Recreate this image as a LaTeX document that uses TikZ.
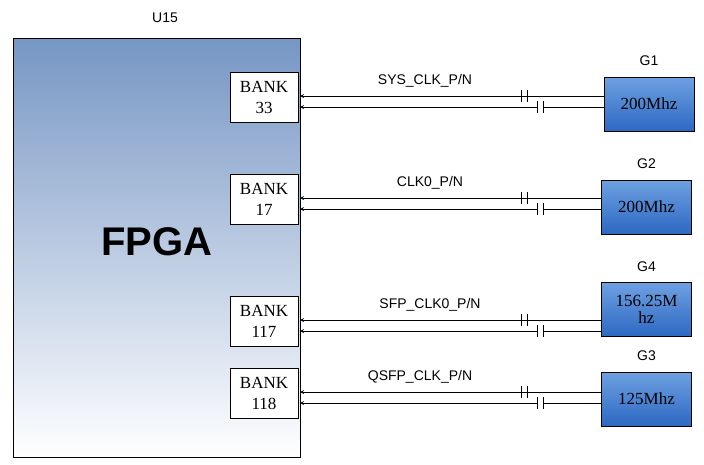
\documentclass[tikz,border=0pt]{standalone}
\usepackage{fontspec}
\setmainfont{Liberation Serif}
\newfontfamily\labelfont{Liberation Sans}
\usetikzlibrary{positioning}
\definecolor{fpgatop}{RGB}{118,150,196}
\definecolor{osctop}{RGB}{110,160,225}
\definecolor{oscbot}{RGB}{45,105,195}
\begin{document}
\begin{tikzpicture}[x=1pt,y=-1pt,>=stealth,thick,
  bank/.style={draw,fill=white,minimum width=68pt,minimum height=50pt,inner sep=0pt,align=center,font=\fontsize{17}{19}\selectfont},
  osc/.style={draw,top color=osctop,bottom color=oscbot,minimum width=90pt,minimum height=54pt,inner sep=0pt,align=center,font=\fontsize{17}{17}\selectfont},
  sig/.style={font=\labelfont\fontsize{14}{14}\selectfont},
  capplate/.style={line width=1pt}]
\useasboundingbox (0,0) rectangle (704,464);
\node[draw,top color=fpgatop,bottom color=white,minimum width=287pt,minimum height=419pt,inner sep=0pt] (fpga) at (156.5,247.5) {};
\node[font=\labelfont\bfseries\fontsize{40}{40}\selectfont] (fpgatxt) at (157,242) {FPGA};
\node[sig] (u15) at (165,18) {U15};
% banks and oscillators
\foreach \name/\num/\by/\ox/\oy/\g/\f/\sigtxt/\sx in {
  a/33/97/649/104/G1/200Mhz/SYS\_CLK\_P\slash N/425,
  b/17/199/646.5/207/G2/200Mhz/CLK0\_P\slash N/430,
  c/117/321/646.5/309.5/G4/{156.25M\\hz}/SFP\_CLK0\_P\slash N/430,
  d/118/393/646.5/399/G3/125Mhz/QSFP\_CLK\_P\slash N/420}{
  \node[bank] (bank\name) at (264,\by) {BANK\\[2pt]\num};
  \node[osc] (osc\name) at (\ox,\oy) {\f};
  \node[sig] (g\name) at (\ox,\oy-43) {\g};
  \node[sig] (sig\name) at (\sx,\by-16) {\sigtxt};
  \coordinate (p\name) at (300,\by-1);
  \coordinate (n\name) at (300,\by+10);
  \draw[->] (p\name-|osc\name.west) -- (521,\by-1) (527,\by-1) -- (p\name);
  \draw[->] (n\name-|osc\name.west) -- (543,\by+10) (537,\by+10) -- (n\name);
  \draw[capplate] (521,\by-7) -- (521,\by+5) (527,\by-7) -- (527,\by+5);
  \draw[capplate] (537,\by+4) -- (537,\by+16) (543,\by+4) -- (543,\by+16);
}
\end{tikzpicture}
\end{document}
